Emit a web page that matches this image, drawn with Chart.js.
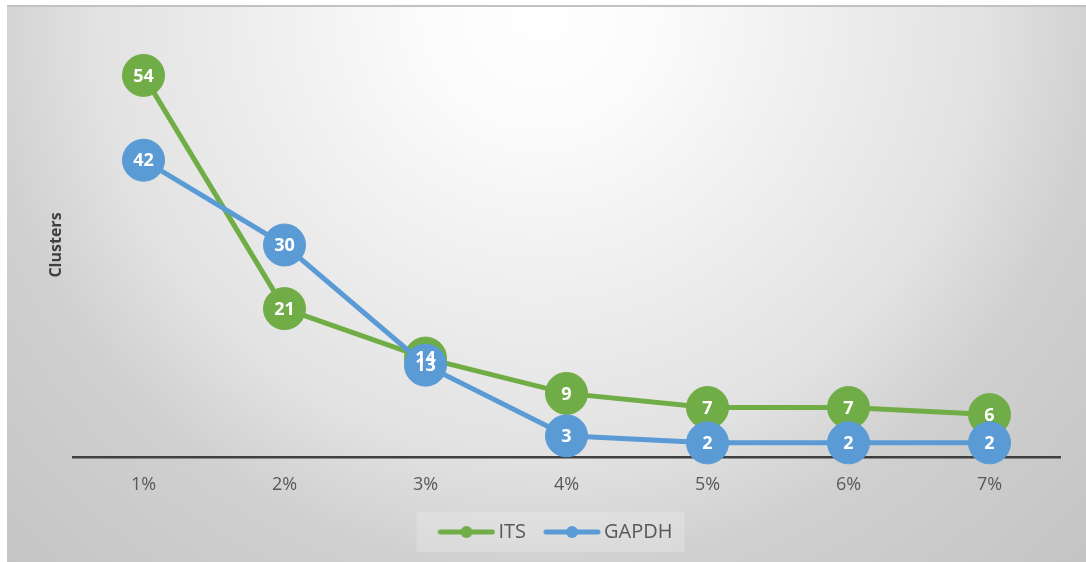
<!DOCTYPE html>
<html>
<head>
<meta charset="utf-8">
<script src="https://cdn.jsdelivr.net/npm/chart.js@4.4.1/dist/chart.umd.min.js"></script>
<style>
  html, body { margin: 0; padding: 0; background: #fff; }
</style>
</head>
<body>
<canvas id="chart" width="1086" height="562"></canvas>
<script>
// Cluster counts per threshold
const categories = ["1%", "2%", "3%", "4%", "5%", "6%", "7%"];
const itsValues = [54, 21, 14, 9, 7, 7, 6];
const gapdhValues = [42, 30, 13, 3, 2, 2, 2];
const seriesNames = ["ITS", "GAPDH"];
const yTitle = "Clusters";

const GREEN = "#70ad47";
const BLUE = "#5b9bd5";
const FONT = "'Open Sans', 'DejaVu Sans', sans-serif";

// Legend swatch: short line with a dot in the middle
function legendMarker(color) {
  const c = document.createElement("canvas");
  c.width = 58;
  c.height = 14;
  const g = c.getContext("2d");
  g.strokeStyle = color;
  g.lineWidth = 5;
  g.lineCap = "round";
  g.beginPath();
  g.moveTo(3, 7);
  g.lineTo(55, 7);
  g.stroke();
  g.fillStyle = color;
  g.beginPath();
  g.arc(29, 7, 6, 0, Math.PI * 2);
  g.fill();
  return c;
}

// Gradient backdrop, frame line and legend panel
const backdrop = {
  id: "backdrop",
  afterLayout(chart) {
    // legend sits a little right of centre
    chart.legend.left += 25;
    chart.legend.right += 25;
  },
  beforeDraw(chart) {
    const { ctx, width, height } = chart;
    ctx.save();
    ctx.fillStyle = "#ffffff";
    ctx.fillRect(0, 0, width, height);
    const grad = ctx.createRadialGradient(540, 10, 0, 540, 10, 780);
    grad.addColorStop(0, "#ffffff");
    grad.addColorStop(0.15, "#fbfbfb");
    grad.addColorStop(0.35, "#efefef");
    grad.addColorStop(0.57, "#e2e2e2");
    grad.addColorStop(0.72, "#d0d0d0");
    grad.addColorStop(1, "#c4c4c4");
    ctx.fillStyle = grad;
    ctx.fillRect(7, 7, width - 7, height - 7);
    ctx.fillStyle = "#c2c2c2";
    ctx.fillRect(7, 5, width - 7, 2);

    const boxes = chart.legend && chart.legend.legendHitBoxes;
    if (boxes && boxes.length) {
      const left = Math.min(...boxes.map(b => b.left));
      const right = Math.max(...boxes.map(b => b.left + b.width));
      const mid = boxes[0].top + boxes[0].height / 2;
      ctx.fillStyle = "rgba(255,255,255,0.2)";
      ctx.fillRect(left - 28, mid - 20, right - left + 40, 40);
    }
    ctx.restore();
  }
};

// White value labels centred on each marker
const valueLabels = {
  id: "valueLabels",
  afterDatasetsDraw(chart) {
    const { ctx } = chart;
    ctx.save();
    ctx.fillStyle = "#ffffff";
    ctx.font = "bold 18px " + FONT;
    ctx.textAlign = "center";
    ctx.textBaseline = "middle";
    chart.data.datasets.forEach((ds, i) => {
      const meta = chart.getDatasetMeta(i);
      meta.data.forEach((pt, j) => {
        ctx.fillText(String(ds.data[j]), pt.x, pt.y + 1);
      });
    });
    ctx.restore();
  }
};

new Chart(document.getElementById("chart"), {
  type: "line",
  data: {
    labels: categories,
    datasets: [
      {
        label: seriesNames[0],
        data: itsValues,
        borderColor: GREEN,
        backgroundColor: GREEN,
        pointBackgroundColor: GREEN,
        pointBorderColor: GREEN,
        borderWidth: 5,
        pointStyle: "circle",
        pointRadius: 21,
        pointBorderWidth: 1,
        order: 1,
        clip: false
      },
      {
        label: seriesNames[1],
        data: gapdhValues,
        borderColor: BLUE,
        backgroundColor: BLUE,
        pointBackgroundColor: BLUE,
        pointBorderColor: BLUE,
        borderWidth: 5,
        pointStyle: "circle",
        pointRadius: 21,
        pointBorderWidth: 1,
        order: 0,
        clip: false
      }
    ]
  },
  options: {
    responsive: false,
    devicePixelRatio: 1,
    animation: false,
    events: [],
    elements: {
      line: { tension: 0 }
    },
    layout: { padding: { left: 7, top: 33, right: 26, bottom: 10 } },
    scales: {
      x: {
        offset: true,
        grid: { display: false, drawTicks: false },
        border: { display: true, color: "#404040", width: 2.5 },
        ticks: {
          color: "#595959",
          font: { family: FONT, size: 18 },
          padding: 17
        },
        afterFit(scale) { scale.height = 41; }
      },
      y: {
        min: 0,
        max: 60,
        ticks: { display: false },
        grid: { display: false },
        border: { display: false },
        title: {
          display: true,
          text: yTitle,
          color: "#404040",
          font: { family: FONT, size: 16, weight: "bold" },
          padding: { top: 40, bottom: 0 }
        },
        afterFit(scale) { scale.width = 66; }
      }
    },
    plugins: {
      tooltip: { enabled: false },
      legend: {
        position: "bottom",
        labels: {
          usePointStyle: true,
          pointStyleWidth: 44,
          boxHeight: 14,
          padding: 24,
          color: "#595959",
          font: { family: FONT, size: 20 },
          sort: (a, b) => a.datasetIndex - b.datasetIndex,
          generateLabels(chart) {
            return chart.data.datasets.map((ds, i) => ({
              text: ds.label,
              datasetIndex: i,
              pointStyle: legendMarker(ds.borderColor),
              fillStyle: ds.borderColor,
              strokeStyle: ds.borderColor,
              lineWidth: 0,
              fontColor: "#595959",
              hidden: false
            }));
          }
        }
      }
    }
  },
  plugins: [backdrop, valueLabels]
});
</script>
</body>
</html>
